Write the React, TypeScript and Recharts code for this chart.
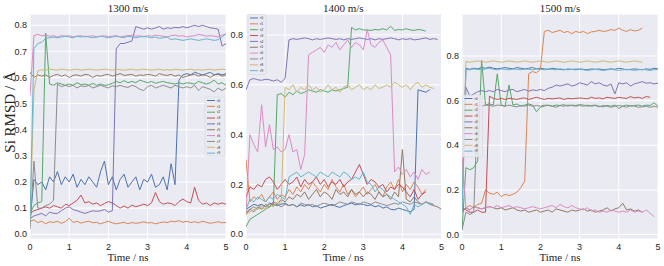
import { LineChart, Line, XAxis, YAxis, CartesianGrid } from "recharts";

type V = number | null;

const time = [
  0.0, 0.1, 0.2, 0.3, 0.4, 0.5, 0.6, 0.7, 0.8, 0.9,
  1.0, 1.1, 1.2, 1.3, 1.4, 1.5, 1.6, 1.7, 1.8, 1.9,
  2.0, 2.1, 2.2, 2.3, 2.4, 2.5, 2.6, 2.7, 2.8, 2.9,
  3.0, 3.1, 3.2, 3.3, 3.4, 3.5, 3.6, 3.7, 3.8, 3.9,
  4.0, 4.1, 4.2, 4.3, 4.4, 4.5, 4.6, 4.7, 4.8, 4.9,
  5.0,
];

const runNames = ["r0", "r1", "r2", "r3", "r4", "r5", "r6", "r7", "r8", "r9"];
const colors = ["#4c72b0", "#dd8452", "#55a868", "#c44e52", "#8172b3", "#937860", "#da8bc3", "#8c8c8c", "#ccb974", "#64b5cd"];
const xTicks = [0, 1, 2, 3, 4, 5];

// 1300 m/s
const v1300_r0: V[] = [
  0.05, 0.21, 0.19, 0.2, 0.17, 0.22, 0.2, 0.24, 0.19, 0.22,
  0.2, 0.23, 0.18, 0.21, 0.19, 0.22, 0.2, 0.18, 0.24, 0.28,
  0.19, 0.22, 0.17, 0.21, 0.23, 0.18, 0.2, 0.22, 0.17, 0.21,
  0.2, 0.23, 0.18, 0.19, 0.22, 0.17, 0.27, 0.19, 0.59, 0.61,
  0.615, 0.61, 0.62, 0.615, 0.61, 0.615, 0.62, 0.61, 0.615, 0.61,
  0.615,
];
const v1300_r1: V[] = [
  0.05, 0.055, 0.045, 0.05, 0.04, 0.048, 0.045, 0.05, 0.042, 0.048,
  0.062, 0.045, 0.05, 0.043, 0.047, 0.05, 0.044, 0.046, 0.04, 0.045,
  0.05, 0.044, 0.04, 0.043, 0.046, 0.04, 0.045, 0.042, 0.044, 0.048,
  0.043, 0.045, 0.04, 0.044, 0.047, 0.045, 0.05, 0.048, 0.052, 0.046,
  0.05, 0.045, 0.048, 0.044, 0.05, 0.046, 0.042, 0.045, 0.048, 0.044,
  0.045,
];
const v1300_r2: V[] = [
  0.08, 0.11, 0.12, 0.125, 0.77, 0.575, 0.57, 0.58, 0.575, 0.57,
  0.575, 0.57, 0.58, 0.572, 0.575, 0.57, 0.578, 0.57, 0.575, 0.57,
  0.572, 0.578, 0.585, 0.58, 0.588, 0.58, 0.585, 0.58, 0.59, 0.585,
  0.58, 0.585, 0.578, 0.582, 0.585, 0.58, 0.578, 0.575, 0.58, 0.575,
  0.58, 0.578, 0.575, 0.585, 0.58, 0.575, 0.58, 0.59, 0.575, 0.58,
  0.57,
];
const v1300_r3: V[] = [
  0.08, 0.09, 0.095, 0.1, 0.105, 0.1, 0.11, 0.105, 0.1, 0.115,
  0.11, 0.12, 0.13, 0.15, 0.12, 0.125, 0.115, 0.12, 0.11, 0.118,
  0.125, 0.12, 0.11, 0.1, 0.108, 0.1, 0.112, 0.105, 0.11, 0.115,
  0.11, 0.12, 0.16, 0.125, 0.115, 0.12, 0.118, 0.11, 0.125, 0.135,
  0.125, 0.12, 0.18, 0.13, 0.115, 0.12, 0.11, 0.12, 0.115, 0.12,
  0.115,
];
const v1300_r4: V[] = [
  0.06, 0.07, 0.075, 0.08, 0.07, 0.085, 0.08, 0.08, 0.09, 0.1,
  0.105, 0.095, 0.09, 0.085, 0.08, 0.085, 0.09, 0.088, 0.09, 0.095,
  0.085, 0.09, 0.71, 0.73, 0.73, 0.735, 0.74, 0.795, 0.79, 0.785,
  0.79, 0.785, 0.79, 0.795, 0.785, 0.79, 0.788, 0.792, 0.79, 0.795,
  0.79, 0.795, 0.8, 0.795, 0.8, 0.795, 0.79, 0.788, 0.785, 0.72,
  0.73,
];
const v1300_r5: V[] = [
  0.62, 0.6, 0.61, 0.605, 0.61, 0.6, 0.608, 0.612, 0.605, 0.61,
  0.6, 0.608, 0.61, 0.605, 0.612, 0.61, 0.6, 0.608, 0.605, 0.61,
  0.612, 0.605, 0.61, 0.615, 0.608, 0.61, 0.612, 0.605, 0.61, 0.608,
  0.612, 0.61, 0.605, 0.615, 0.61, 0.608, 0.612, 0.605, 0.61, 0.6,
  0.605, 0.61, 0.612, 0.605, 0.61, 0.608, 0.6, 0.61, 0.612, 0.605,
  0.61,
];
const v1300_r6: V[] = [
  0.53, 0.76, 0.765, 0.76, 0.762, 0.758, 0.76, 0.755, 0.76, 0.758,
  0.76, 0.755, 0.758, 0.76, 0.755, 0.758, 0.76, 0.755, 0.758, 0.76,
  0.756, 0.758, 0.76, 0.755, 0.758, 0.76, 0.762, 0.758, 0.76, 0.755,
  0.76, 0.758, 0.762, 0.76, 0.758, 0.755, 0.76, 0.762, 0.758, 0.76,
  0.755, 0.758, 0.76, 0.765, 0.762, 0.758, 0.76, 0.758, 0.755, 0.762,
  0.765,
];
const v1300_r7: V[] = [
  0.02, 0.28, 0.1, 0.1, 0.11, 0.115, 0.13, 0.575, 0.565, 0.57,
  0.565, 0.57, 0.56, 0.568, 0.565, 0.57, 0.56, 0.565, 0.57, 0.565,
  0.56, 0.568, 0.565, 0.57, 0.565, 0.562, 0.57, 0.565, 0.555, 0.55,
  0.565, 0.57, 0.56, 0.565, 0.57, 0.565, 0.56, 0.57, 0.565, 0.56,
  0.565, 0.56, 0.57, 0.55, 0.565, 0.56, 0.555, 0.545, 0.56, 0.55,
  0.56,
];
const v1300_r8: V[] = [
  0.05, 0.55, 0.625, 0.63, 0.628, 0.632, 0.63, 0.628, 0.632, 0.63,
  0.628, 0.63, 0.632, 0.628, 0.63, 0.632, 0.63, 0.628, 0.63, 0.632,
  0.63, 0.628, 0.632, 0.63, 0.628, 0.63, 0.632, 0.628, 0.63, 0.632,
  0.63, 0.628, 0.63, 0.632, 0.628, 0.63, 0.628, 0.632, 0.63, 0.628,
  0.63, 0.632, 0.628, 0.63, 0.628, 0.63, 0.632, 0.628, 0.63, 0.632,
  0.63,
];
const v1300_r9: V[] = [
  0.05, 0.71, 0.73, 0.735, 0.75, 0.752, 0.755, 0.752, 0.755, 0.758,
  0.755, 0.752, 0.758, 0.755, 0.758, 0.755, 0.752, 0.755, 0.758, 0.755,
  0.752, 0.755, 0.758, 0.755, 0.752, 0.758, 0.755, 0.752, 0.755, 0.758,
  0.755, 0.752, 0.755, 0.75, 0.752, 0.755, 0.745, 0.748, 0.745, 0.742,
  0.745, 0.748, 0.745, 0.742, 0.745, 0.748, 0.745, 0.742, 0.745, 0.755,
  0.768,
];

// 1400 m/s
const v1400_r0: V[] = [
  0.1, 0.11, 0.12, 0.115, 0.12, 0.11, 0.125, 0.12, 0.115, 0.12,
  0.125, 0.115, 0.12, 0.11, 0.118, 0.112, 0.12, 0.11, 0.115, 0.105,
  0.11, 0.115, 0.12, 0.112, 0.108, 0.115, 0.12, 0.125, 0.118, 0.122,
  0.12, 0.115, 0.118, 0.11, 0.115, 0.105, 0.11, 0.1, 0.098, 0.105,
  0.1, 0.095, 0.09, 0.1, 0.58, 0.575, 0.57, 0.58, null, null,
  null,
];
const v1400_r1: V[] = [
  0.3, 0.13, 0.15, 0.14, 0.16, 0.13, 0.15, 0.17, 0.14, 0.16,
  0.15, 0.18, 0.16, 0.19, 0.17, 0.2, 0.18, 0.21, 0.19, 0.17,
  0.2, 0.18, 0.22, 0.19, 0.17, 0.2, 0.16, 0.18, 0.15, 0.17,
  0.19, 0.16, 0.18, 0.2, 0.17, 0.15, 0.19, 0.21, 0.18, 0.22,
  0.17, 0.2, 0.18, 0.21, 0.19, 0.16, 0.18, null, null, null,
  null,
];
const v1400_r2: V[] = [
  0.03, 0.06, 0.07, 0.08, 0.09, 0.1, 0.11, 0.12, 0.56, 0.565,
  0.55, 0.57, 0.56, 0.575, 0.565, 0.57, 0.58, 0.575, 0.57, 0.58,
  0.575, 0.57, 0.58, 0.575, 0.58, 0.585, 0.59, 0.83, 0.82, 0.825,
  0.82, 0.82, 0.818, 0.822, 0.82, 0.825, 0.82, 0.835, 0.818, 0.822,
  0.82, 0.825, 0.82, 0.818, 0.822, 0.82, 0.815, null, null, null,
  null,
];
const v1400_r3: V[] = [
  0.15, 0.19, 0.18, 0.2, 0.19, 0.22, 0.23, 0.21, 0.18, 0.2,
  0.22, 0.2, 0.21, 0.23, 0.19, 0.22, 0.2, 0.21, 0.23, 0.2,
  0.22, 0.19, 0.21, 0.2, 0.22, 0.19, 0.21, 0.22, 0.25, 0.28,
  0.24, 0.2, 0.22, 0.21, 0.19, 0.2, 0.17, 0.19, 0.18, 0.2,
  0.19, 0.17, 0.15, 0.18, 0.14, 0.16, 0.17, null, null, null,
  null,
];
const v1400_r4: V[] = [
  0.58, 0.62, 0.625, 0.62, 0.618, 0.622, 0.62, 0.615, 0.62, 0.61,
  0.625, 0.78, 0.785, 0.782, 0.785, 0.788, 0.785, 0.78, 0.785, 0.782,
  0.785, 0.788, 0.785, 0.782, 0.785, 0.78, 0.785, 0.782, 0.785, 0.788,
  0.785, 0.782, 0.785, 0.78, 0.785, 0.782, 0.785, 0.788, 0.785, 0.78,
  0.785, 0.782, 0.785, 0.78, 0.782, 0.785, 0.788, 0.782, 0.785, 0.782,
  null,
];
const v1400_r5: V[] = [
  0.08, 0.1, 0.09, 0.11, 0.1, 0.12, 0.11, 0.13, 0.12, 0.14,
  0.13, 0.15, 0.14, 0.16, 0.15, 0.17, 0.14, 0.16, 0.18, 0.15,
  0.17, 0.16, 0.14, 0.18, 0.16, 0.17, 0.15, 0.18, 0.16, 0.17,
  0.15, 0.17, 0.16, 0.14, 0.17, 0.15, 0.16, 0.14, 0.17, 0.15,
  0.34, 0.14, 0.13, 0.15, 0.13, 0.12, 0.13, 0.12, 0.115, 0.11,
  0.1,
];
const v1400_r6: V[] = [
  0.08, 0.4, 0.36, 0.33, 0.52, 0.35, 0.44, 0.34, 0.35, 0.33,
  0.34, 0.4, 0.33, 0.34, 0.26, 0.32, 0.72, 0.73, 0.74, 0.75,
  0.73, 0.76, 0.75, 0.77, 0.74, 0.76, 0.78, 0.75, 0.77, 0.76,
  0.74, 0.82, 0.76, 0.75, 0.77, 0.78, 0.75, 0.72, 0.25, 0.27,
  0.24, 0.26, 0.23, 0.25, 0.22, 0.26, 0.24, 0.25, null, null,
  null,
];
const v1400_r7: V[] = [
  0.09, 0.1, 0.11, 0.1, 0.12, 0.11, 0.12, 0.115, 0.12, 0.11,
  0.12, 0.115, 0.12, 0.11, 0.125, 0.12, 0.115, 0.12, 0.11, 0.12,
  0.125, 0.12, 0.115, 0.12, 0.13, 0.125, 0.12, 0.13, 0.125, 0.12,
  0.13, 0.125, 0.12, 0.13, 0.125, 0.12, 0.115, 0.12, 0.125, 0.12,
  0.13, 0.125, 0.12, 0.13, 0.125, 0.12, 0.13, 0.125, 0.12, null,
  null,
];
const v1400_r8: V[] = [
  0.08, 0.09, 0.1, 0.1, 0.11, 0.1, 0.12, 0.11, 0.13, 0.12,
  0.59, 0.58, 0.6, 0.57, 0.59, 0.58, 0.6, 0.58, 0.59, 0.57,
  0.58, 0.6, 0.58, 0.59, 0.57, 0.59, 0.6, 0.58, 0.59, 0.6,
  0.58, 0.59, 0.58, 0.6, 0.585, 0.59, 0.6, 0.59, 0.61, 0.6,
  0.59, 0.6, 0.58, 0.6, 0.61, 0.59, 0.6, 0.59, 0.585, null,
  null,
];
const v1400_r9: V[] = [
  0.1, 0.14, 0.13, 0.15, 0.14, 0.13, 0.15, 0.14, 0.16, 0.15,
  0.14, 0.23, 0.24, 0.25, 0.23, 0.24, 0.25, 0.24, 0.23, 0.25,
  0.24, 0.23, 0.25, 0.24, 0.23, 0.25, 0.24, 0.22, 0.23, 0.22,
  0.25, 0.21, 0.2, 0.17, 0.19, 0.18, 0.16, 0.15, 0.14, 0.13,
  0.12, 0.11, 0.08, 0.12, 0.11, 0.12, 0.13, 0.12, 0.12, null,
  null,
];

// 1500 m/s
const v1500_r0: V[] = [
  0.1, 0.745, 0.74, 0.745, 0.742, 0.748, 0.745, 0.75, 0.745, 0.742,
  0.745, 0.748, 0.745, 0.742, 0.748, 0.745, 0.742, 0.745, 0.748, 0.742,
  0.745, 0.742, 0.74, 0.745, 0.742, 0.74, 0.738, 0.742, 0.74, 0.738,
  0.742, 0.74, 0.738, 0.742, 0.74, 0.742, 0.738, 0.74, 0.742, 0.74,
  0.745, 0.742, 0.738, 0.74, 0.742, 0.74, 0.738, 0.742, 0.74, 0.745,
  0.742,
];
const v1500_r1: V[] = [
  0.1, 0.12, 0.13, 0.12, 0.135, 0.14, 0.2, 0.185, 0.18, 0.19,
  0.17, 0.18, 0.175, 0.18, 0.19, 0.21, 0.24, 0.72, 0.73, 0.725,
  0.74, 0.91, 0.915, 0.905, 0.91, 0.915, 0.905, 0.91, 0.9, 0.91,
  0.905, 0.91, 0.9, 0.908, 0.91, 0.915, 0.91, 0.912, 0.918, 0.915,
  0.925, 0.915, 0.91, 0.918, 0.912, 0.915, 0.925, null, null, null,
  null,
];
const v1500_r2: V[] = [
  0.02, 0.3, 0.29, 0.3, 0.33, 0.78, 0.58, 0.585, 0.58, 0.72,
  0.58, 0.575, 0.67, 0.58, 0.585, 0.575, 0.58, 0.585, 0.58, 0.55,
  0.57, 0.575, 0.58, 0.575, 0.58, 0.578, 0.582, 0.575, 0.58, 0.578,
  0.582, 0.58, 0.575, 0.578, 0.58, 0.575, 0.572, 0.578, 0.575, 0.58,
  0.565, 0.575, 0.58, 0.575, 0.578, 0.58, 0.575, 0.58, 0.578, 0.59,
  0.575,
];
const v1500_r3: V[] = [
  0.12, 0.11, 0.1, 0.1, 0.11, 0.1, 0.1, 0.62, 0.61, 0.605,
  0.61, 0.605, 0.61, 0.608, 0.605, 0.61, 0.612, 0.605, 0.61, 0.615,
  0.61, 0.605, 0.61, 0.608, 0.61, 0.612, 0.605, 0.61, 0.608, 0.61,
  0.612, 0.61, 0.608, 0.615, 0.61, 0.612, 0.608, 0.615, 0.612, 0.61,
  0.615, 0.612, 0.61, 0.618, 0.612, 0.615, 0.61, 0.618, 0.615, null,
  null,
];
const v1500_r4: V[] = [
  0.1, 0.66, 0.62, 0.63, 0.64, 0.645, 0.64, 0.645, 0.64, 0.65,
  0.645, 0.64, 0.648, 0.65, 0.64, 0.645, 0.65, 0.642, 0.648, 0.645,
  0.65, 0.645, 0.655, 0.66, 0.67, 0.665, 0.67, 0.675, 0.665, 0.67,
  0.68, 0.675, 0.67, 0.685, 0.675, 0.68, 0.67, 0.665, 0.675, 0.63,
  0.68, 0.675, 0.68, 0.665, 0.675, 0.68, 0.685, 0.678, 0.68, 0.675,
  0.678,
];
const v1500_r5: V[] = [
  0.1, 0.12, 0.11, 0.125, 0.12, 0.115, 0.12, 0.125, 0.12, 0.115,
  0.12, 0.11, 0.115, 0.12, 0.11, 0.105, 0.11, 0.1, 0.105, 0.11,
  0.1, 0.105, 0.11, 0.1, 0.115, 0.11, 0.105, 0.1, 0.11, 0.105,
  0.11, 0.115, 0.105, 0.11, 0.1, 0.105, 0.11, 0.12, 0.105, 0.115,
  0.12, 0.14, 0.11, 0.115, 0.105, 0.11, 0.1, null, null, null,
  null,
];
const v1500_r6: V[] = [
  0.35, 0.12, 0.11, 0.125, 0.12, 0.115, 0.12, 0.125, 0.12, 0.13,
  0.12, 0.125, 0.13, 0.12, 0.125, 0.12, 0.115, 0.12, 0.125, 0.12,
  0.115, 0.12, 0.125, 0.13, 0.12, 0.135, 0.125, 0.12, 0.13, 0.12,
  0.115, 0.11, 0.12, 0.105, 0.11, 0.1, 0.105, 0.1, 0.11, 0.105,
  0.1, 0.105, 0.1, 0.11, 0.1, 0.105, 0.1, 0.11, 0.095, 0.08,
  null,
];
const v1500_r7: V[] = [
  0.02, 0.1, 0.09, 0.1, 0.58, 0.575, 0.58, 0.578, 0.575, 0.58,
  0.578, 0.575, 0.58, 0.575, 0.572, 0.578, 0.575, 0.58, 0.575, 0.578,
  0.575, 0.58, 0.578, 0.575, 0.57, 0.578, 0.575, 0.58, 0.578, 0.575,
  0.578, 0.575, 0.58, 0.575, 0.578, 0.572, 0.578, 0.575, 0.57, 0.575,
  0.578, 0.575, 0.57, 0.578, 0.575, 0.57, 0.572, 0.575, 0.57, 0.575,
  0.57,
];
const v1500_r8: V[] = [
  0.1, 0.775, 0.772, 0.775, 0.778, 0.775, 0.772, 0.775, 0.778, 0.775,
  0.772, 0.775, 0.778, 0.775, 0.772, 0.775, 0.778, 0.775, 0.772, 0.775,
  0.778, 0.775, 0.772, 0.775, 0.778, 0.775, 0.772, 0.775, 0.778, 0.775,
  0.772, 0.775, 0.778, 0.775, 0.772, 0.775, 0.778, 0.775, 0.772, 0.775,
  0.778, 0.775, 0.772, 0.775, 0.778, 0.775, 0.772, null, null, null,
  null,
];
const v1500_r9: V[] = [
  0.1, 0.74, 0.738, 0.742, 0.74, 0.738, 0.742, 0.745, 0.74, 0.738,
  0.742, 0.74, 0.738, 0.742, 0.74, 0.738, 0.742, 0.74, 0.738, 0.742,
  0.74, 0.738, 0.742, 0.74, 0.738, 0.742, 0.74, 0.738, 0.74, 0.742,
  0.74, 0.738, 0.735, 0.738, 0.74, 0.738, 0.735, 0.738, 0.74, 0.738,
  0.735, 0.738, 0.74, 0.738, 0.735, 0.738, 0.74, 0.738, 0.735, 0.738,
  0.74,
];

const TOP = 14;
const BOTTOM = 239;
const YW = 34;
const XH = 24;
const RM = 6;
const tickFont = { fontSize: 9, fill: "#262626", fontFamily: "Liberation Sans, Arial, sans-serif" };
const serif = "Liberation Serif, Times New Roman, serif";

const panels = [
  {
    title: "1300 m/s",
    x0: 30, x1: 226,
    domain: [-0.018, 0.843],
    yTicks: [0, 0.1, 0.2, 0.3, 0.4, 0.5, 0.6, 0.7, 0.8],
    series: [v1300_r0, v1300_r1, v1300_r2, v1300_r3, v1300_r4, v1300_r5, v1300_r6, v1300_r7, v1300_r8, v1300_r9],
    legend: { x: 205, y: 97, w: 20, h: 59 },
  },
  {
    title: "1400 m/s",
    x0: 245.5, x1: 441,
    domain: [-0.019, 0.884],
    yTicks: [0, 0.2, 0.4, 0.6, 0.8],
    series: [v1400_r0, v1400_r1, v1400_r2, v1400_r3, v1400_r4, v1400_r5, v1400_r6, v1400_r7, v1400_r8, v1400_r9],
    legend: { x: 248, y: 14.5, w: 18, h: 60 },
  },
  {
    title: "1500 m/s",
    x0: 462, x1: 658,
    domain: [-0.02, 0.988],
    yTicks: [0, 0.2, 0.4, 0.6, 0.8],
    series: [v1500_r0, v1500_r1, v1500_r2, v1500_r3, v1500_r4, v1500_r5, v1500_r6, v1500_r7, v1500_r8, v1500_r9],
    legend: { x: 462.5, y: 95, w: 20, h: 62 },
  },
];

function Panel({ p }: { p: (typeof panels)[number] }) {
  const rows = time.map((t, i) => {
    const row: Record<string, V> = { t };
    runNames.forEach((name, k) => {
      row[name] = p.series[k][i];
    });
    return row;
  });
  return (
    <div style={{ position: "absolute", left: p.x0 - YW, top: TOP }}>
      <LineChart
        width={p.x1 - p.x0 + YW + RM}
        height={BOTTOM - TOP + XH}
        data={rows}
        margin={{ top: 0, right: RM, bottom: 0, left: 0 }}
      >
        <CartesianGrid fill="#eaeaf2" stroke="#ffffff" strokeWidth={1} />
        <XAxis
          dataKey="t"
          type="number"
          domain={[0, 5]}
          ticks={xTicks}
          interval={0}
          allowDataOverflow
          height={XH}
          tickLine={false}
          axisLine={false}
          tickSize={4.5}
          tickMargin={0}
          tick={tickFont}
        />
        <YAxis
          type="number"
          domain={p.domain}
          ticks={p.yTicks}
          interval={0}
          allowDataOverflow
          width={YW}
          tickLine={false}
          axisLine={false}
          tickSize={3}
          tickMargin={0}
          tick={tickFont}
          tickFormatter={(v: number) => v.toFixed(1)}
        />
        {runNames.map((name, k) => (
          <Line
            key={name}
            dataKey={name}
            type="linear"
            stroke={colors[k]}
            strokeWidth={1}
            dot={false}
            activeDot={false}
            isAnimationActive={false}
          />
        ))}
      </LineChart>
    </div>
  );
}

export default function App() {
  return (
    <div style={{ position: "absolute", left: 0, top: 0, width: 664, height: 266, background: "#ffffff", overflow: "hidden" }}>
      {panels.map((p) => (
        <Panel key={p.title} p={p} />
      ))}
      <svg width={664} height={266} style={{ position: "absolute", left: 0, top: 0, pointerEvents: "none" }}>
        {panels.map((p) => (
          <g key={p.title}>
            <text x={(p.x0 + p.x1) / 2} y={11.5} textAnchor="middle" fontFamily={serif} fontSize={11} fill="#262626">
              {p.title}
            </text>
            <text x={(p.x0 + p.x1) / 2} y={261} textAnchor="middle" fontFamily={serif} fontSize={11} fill="#262626">
              Time / ns
            </text>
            <rect x={p.legend.x} y={p.legend.y} width={p.legend.w} height={p.legend.h} rx={1} fill="#eaeaf2" fillOpacity={0.85} stroke="#d2d2da" strokeWidth={0.5} />
            {runNames.map((name, k) => {
              const ly = p.legend.y + 3.5 + k * 5.85;
              return (
                <g key={name}>
                  <line x1={p.legend.x + 2} x2={p.legend.x + 10} y1={ly} y2={ly} stroke={colors[k]} strokeWidth={1} />
                  <text x={p.legend.x + 12} y={ly + 1.2} fontSize={3.5} fontFamily="Liberation Sans, sans-serif" fill="#262626">
                    {name}
                  </text>
                </g>
              );
            })}
          </g>
        ))}
        <text
          x={14.5}
          y={112}
          transform="rotate(-90 14.5 112)"
          textAnchor="middle"
          fontFamily={serif}
          fontSize={15}
          fill="#262626"
        >
          Si RMSD / Å
        </text>
      </svg>
    </div>
  );
}
